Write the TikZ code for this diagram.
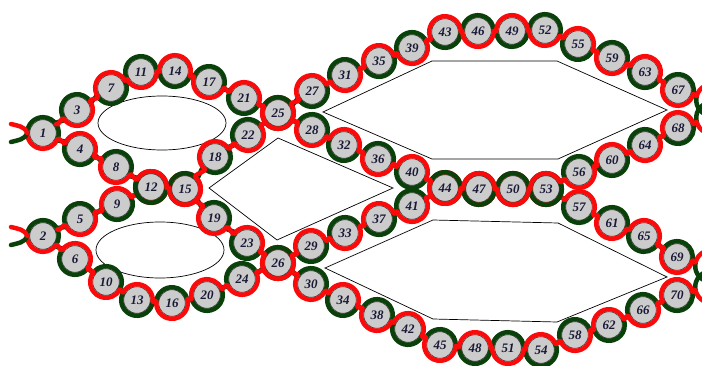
\documentclass[tikz,border=0pt]{standalone}
\usepackage{fontspec}
\setmainfont{Liberation Serif}
\usetikzlibrary{calc}
\definecolor{dnared}{RGB}{250,10,10}
\definecolor{dnagreen}{RGB}{10,64,10}
\definecolor{beadgray}{RGB}{204,204,204}
\definecolor{numcol}{RGB}{25,25,55}
\def\R{15.8pt}
\tikzset{
  strand/.style={draw=#1, line width=4.5pt, line cap=round},
  bead/.style={circle, minimum size=26.6pt, inner sep=0pt, fill=beadgray, draw=black!75, line width=0.7pt,
    font=\fontsize{13}{13}\selectfont\bfseries\itshape, text=numcol},
  hole/.style={draw=black, line width=0.7pt, fill=white}
}
\newcommand\bd[3]{\node[bead] (b#1) at (#2,365-#3) {#1};%
  \expandafter\gdef\csname X#1\endcsname{#2}\expandafter\gdef\csname Y#1\endcsname{#3}}
\newcommand\vb[3]{\coordinate (b#1) at (#2,365-#3);%
  \expandafter\gdef\csname X#1\endcsname{#2}\expandafter\gdef\csname Y#1\endcsname{#3}}
\newcommand\ang[3]{\edef\tmpA{\csname X#2\endcsname}\edef\tmpB{\csname Y#2\endcsname}%
  \edef\tmpC{\csname X#3\endcsname}\edef\tmpD{\csname Y#3\endcsname}%
  \pgfmathsetmacro#1{atan2(\tmpB-\tmpD,\tmpC-\tmpA)}}
\newcommand\wrapb[6]{\ang\aIn{#1}{#2}\ang\aOut{#2}{#3}%
  \pgfmathsetmacro\aS{\aIn+180}%
  \pgfmathsetmacro\aD{mod(mod(\aOut-\aS,360)+360,360)-180*(1+(#4)*(#5))}%
  \draw[strand=#6] (b#2.center) ++(\aS:\R) arc[start angle=\aS,delta angle=\aD,radius=\R];}
\newcommand\conn[5]{\ang\aC{#1}{#2}%
  \pgfmathsetmacro\aO{\aC-90*(#3)*(#4)}\pgfmathsetmacro\aI{\aC+90*(#3)*(#4)}%
  \pgfmathsetmacro\aE{\aC+180}%
  \draw[strand=#5] (b#1.center) ++(\aC:\R) to[out=\aO,in=\aI] ($(b#2.center)+(\aE:\R)$);}
\newcommand\chain[1]{%
  \foreach \pa/\cu/\nx/\sd/\wf/\cf in {#1}{%
    \ifnum\wf=1 \wrapb{\pa}{\cu}{\nx}{\sd}{-1}{dnagreen}\fi
    \ifnum\cf=1 \conn{\cu}{\nx}{\sd}{-1}{dnagreen}\fi}%
  \foreach \pa/\cu/\nx/\sd/\wf/\cf in {#1}{%
    \ifnum\wf=1 \wrapb{\pa}{\cu}{\nx}{\sd}{1}{dnared}\fi
    \ifnum\cf=1 \conn{\cu}{\nx}{\sd}{1}{dnared}\fi}}
\begin{document}
\begin{tikzpicture}[x=1pt,y=1pt]
\useasboundingbox (0,0) rectangle (702,365);
% white holes
\draw[hole] (162,365-123) ellipse [x radius=64, y radius=27];
\draw[hole] (160,365-250) ellipse [x radius=64, y radius=28];
\draw[hole] (209,365-188) -- (278,365-138) -- (393,365-188) -- (277,365-240) -- cycle;
\draw[hole] (323,365-112) -- (432,365-61) -- (557,365-61) -- (667,365-110) -- (558,365-159) -- (432,365-159) -- cycle;
\draw[hole] (325,365-268) -- (433,365-220) -- (558,365-223) -- (667,365-277) -- (557,365-322) -- (433,365-319) -- cycle;
% beads
\bd{1}{43}{133}\bd{2}{43}{236}\bd{3}{77}{110}\bd{4}{80}{149}\bd{5}{80}{219}
\bd{6}{75}{259}\bd{7}{111}{88}\bd{8}{116}{167}\bd{9}{117}{204}\bd{10}{106}{282}
\bd{11}{141}{72}\bd{12}{151}{187}\bd{13}{137}{300}\bd{14}{175}{71}\bd{15}{185}{189}
\bd{16}{172}{303}\bd{17}{209}{82}\bd{18}{215}{157}\bd{19}{214}{218}\bd{20}{207}{295}
\bd{21}{244}{98}\bd{22}{248}{135}\bd{23}{247}{243}\bd{24}{242}{279}\bd{25}{278}{113}
\bd{26}{278}{263}\bd{27}{312}{91}\bd{28}{312}{130}\bd{29}{311}{246}\bd{30}{311}{284}
\bd{31}{345}{75}\bd{32}{344}{145}\bd{33}{345}{233}\bd{34}{343}{300}\bd{35}{379}{61}
\bd{36}{378}{159}\bd{37}{379}{219}\bd{38}{377}{315}\bd{39}{412}{48}\bd{40}{412}{172}
\bd{41}{412}{206}\bd{42}{408}{329}\bd{43}{445}{32}\bd{44}{445}{188}\bd{45}{440}{345}
\bd{46}{478}{31}\bd{47}{479}{189}\bd{48}{475}{348}\bd{49}{512}{31}\bd{50}{513}{189}
\bd{51}{508}{348}\bd{52}{545}{30}\bd{53}{546}{189}\bd{54}{541}{350}\bd{55}{578}{44}
\bd{56}{579}{172}\bd{57}{579}{207}\bd{58}{575}{335}\bd{59}{612}{58}\bd{60}{612}{160}
\bd{61}{612}{223}\bd{62}{609}{325}\bd{63}{645}{72}\bd{64}{645}{145}\bd{65}{644}{236}
\bd{66}{643}{310}\bd{67}{678}{90}\bd{68}{678}{128}\bd{69}{677}{257}\bd{70}{677}{295}
% virtual beads (off the page) and tail ends
\vb{L1}{0}{133}\vb{L2}{0}{236}
\vb{v67}{712}{100}\vb{w67}{745}{100}
\vb{v68}{712}{118}\vb{w68}{745}{118}
\vb{v69}{711}{266}\vb{w69}{745}{266}
\vb{v70}{711}{287}\vb{w70}{745}{287}
\coordinate (t1r) at (11,365-124);\coordinate (t1g) at (11,365-142);
\coordinate (t2r) at (11,365-227);\coordinate (t2g) at (11,365-245);
% chain E
\chain{L2/2/6/-1/1/1, 2/6/10/1/1/1, 6/10/13/-1/1/1, 10/13/16/1/1/1, 13/16/20/-1/1/1,
  16/20/24/1/1/1, 20/24/26/-1/1/1, 24/26/30/1/1/1, 26/30/34/-1/1/1, 30/34/38/1/1/1,
  34/38/42/-1/1/1, 38/42/45/1/1/1, 42/45/48/-1/1/1, 45/48/51/1/1/1, 48/51/54/-1/1/1,
  51/54/58/1/1/1, 54/58/62/-1/1/1, 58/62/66/1/1/1, 62/66/70/-1/1/1, 66/70/v70/1/1/1,
  70/v70/w70/-1/1/0}
% chain D
\chain{12/15/19/1/1/1, 15/19/23/-1/1/1, 19/23/26/1/1/1, 23/26/29/-1/1/1, 26/29/33/1/1/1,
  29/33/37/-1/1/1, 33/37/41/1/1/1, 37/41/44/-1/1/1, 41/44/47/1/1/1, 44/47/50/-1/1/1,
  47/50/53/1/1/1, 50/53/57/-1/1/1, 53/57/61/1/1/1, 57/61/65/-1/1/1, 61/65/69/1/1/1,
  65/69/v69/-1/1/1, 69/v69/w69/1/1/0}
% chain C
\chain{L2/2/5/1/0/1, 2/5/9/-1/1/1, 5/9/12/1/1/1, 9/12/15/-1/1/0}
% chain B
\chain{L1/1/4/-1/1/1, 1/4/8/1/1/1, 4/8/12/-1/1/1, 8/12/15/1/1/1, 12/15/18/-1/1/1,
  15/18/22/1/1/1, 18/22/25/-1/1/1, 22/25/28/1/1/1, 25/28/32/-1/1/1, 28/32/36/1/1/1,
  32/36/40/-1/1/1, 36/40/44/1/1/1, 40/44/47/-1/1/1, 44/47/50/1/1/1, 47/50/53/-1/1/1,
  50/53/56/1/1/1, 53/56/60/-1/1/1, 56/60/64/1/1/1, 60/64/68/-1/1/1, 64/68/v68/1/1/1,
  68/v68/w68/-1/1/0}
% chain A
\chain{L1/1/3/1/0/1, 1/3/7/-1/1/1, 3/7/11/1/1/1, 7/11/14/-1/1/1, 11/14/17/1/1/1,
  14/17/21/-1/1/1, 17/21/25/1/1/1, 21/25/27/-1/1/1, 25/27/31/1/1/1, 27/31/35/-1/1/1,
  31/35/39/1/1/1, 35/39/43/-1/1/1, 39/43/46/1/1/1, 43/46/49/-1/1/1, 46/49/52/1/1/1,
  49/52/55/-1/1/1, 52/55/59/1/1/1, 55/59/63/-1/1/1, 59/63/67/1/1/1, 63/67/v67/-1/1/1,
  67/v67/w67/1/1/0}
% left tails
\draw[strand=dnagreen] (t1g) to[out=15,in=-110] ($(b1.center)+(180:\R)$);
\draw[strand=dnagreen] (t2g) to[out=15,in=-110] ($(b2.center)+(180:\R)$);
\draw[strand=dnared] (t1r) to[out=-15,in=110] ($(b1.center)+(180:\R)$);
\draw[strand=dnared] (t2r) to[out=-15,in=110] ($(b2.center)+(180:\R)$);
\end{tikzpicture}
\end{document}
